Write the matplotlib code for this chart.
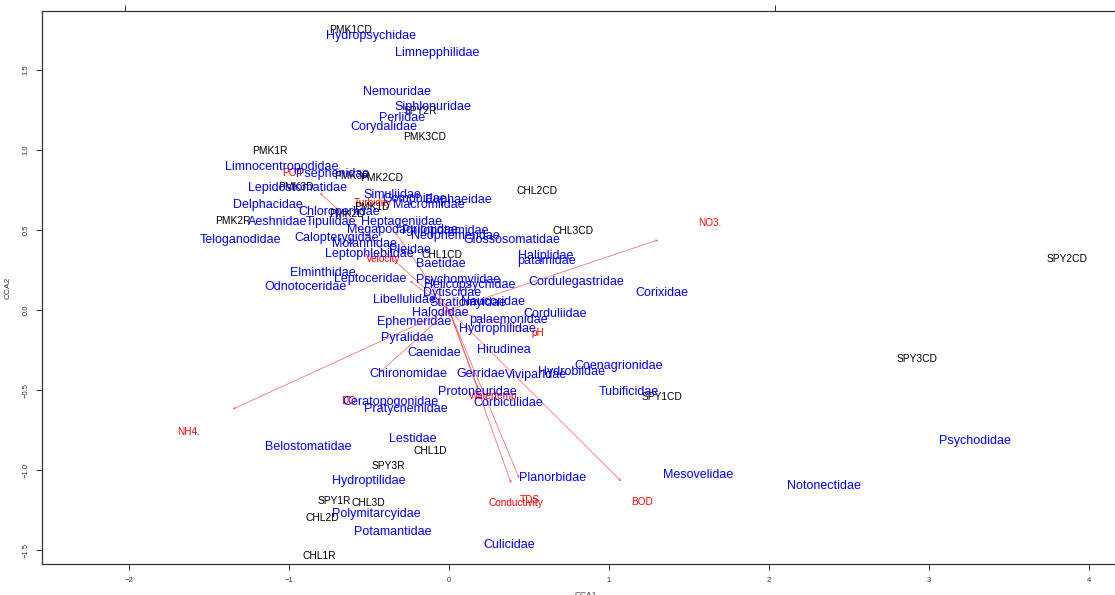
import matplotlib
matplotlib.use("Agg")
import matplotlib.pyplot as plt

plt.rcParams["font.family"] = ["Liberation Sans", "DejaVu Sans"]

# --- environmental biplot arrows (CCA1, CCA2) and their label positions ---
env_names = ["PO4", "Turbidity", "Velocity", "NO3.", "pH", "Watertemp",
             "DO", "NH4.", "Conductivity", "TDS", "BOD"]
env_x = [-0.806, -0.338, -0.244, 1.306, 0.456, 0.181,
         -0.431, -1.350, 0.388, 0.438, 1.075]
env_y = [0.731, 0.488, 0.181, 0.438, -0.113, -0.488,
         -0.388, -0.619, -1.081, -1.050, -1.069]
env_lab_x = [-0.981, -0.475, -0.413, 1.631, 0.556, 0.275,
             -0.625, -1.631, 0.419, 0.506, 1.206]
env_lab_y = [0.856, 0.669, 0.319, 0.544, -0.144, -0.538,
             -0.569, -0.763, -1.206, -1.188, -1.200]

# --- site scores ---
site_names = ["PMK1CD", "PMK1R", "PMK3CD", "SPY2R", "PMK3R", "PMK2CD",
              "PMK3D", "PMK1D", "PMK2D", "PMK2R", "CHL2CD", "CHL3CD",
              "CHL1CD", "SPY2CD", "SPY3CD", "SPY1CD", "CHL1D", "SPY3R",
              "SPY1R", "CHL3D", "CHL2D", "CHL1R"]
site_x = [-0.613, -1.119, -0.156, -0.181, -0.606, -0.419,
          -0.956, -0.481, -0.638, -1.350, 0.550, 0.775,
          -0.044, 3.863, 2.925, 1.331, -0.119, -0.381,
          -0.719, -0.506, -0.794, -0.813]
site_y = [1.750, 0.994, 1.081, 1.244, 0.838, 0.825,
          0.769, 0.644, 0.600, 0.556, 0.744, 0.494,
          0.344, 0.319, -0.306, -0.544, -0.881, -0.975,
          -1.194, -1.206, -1.300, -1.538]

# --- species scores ---
sp_names = ["Hydropsychidae", "Limnepphilidae", "Nemouridae", "Siphlonuridae",
            "Perlidae", "Corydalidae", "Limnocentropodidae", "Psephenidae",
            "Lepidostomatidae", "Simuliidae", "Gomphidae", "Euphaeidae",
            "Macromiidae", "Delphacidae", "Chloroperlidae", "Aeshnidae",
            "Tipulidae", "Heptageniidae", "Megapodagrionidae", "Philopotamidae",
            "Neophemeridae", "Teloganodidae", "Calopterygidae", "Glossosomatidae",
            "Molannidae", "Pleidae", "Leptophlebiidae", "Baetidae",
            "Haliplidae", "patamidae", "Elminthidae", "Leptoceridae",
            "Odnotoceridae", "Psychomyiidae", "Helicopsychidae", "Cordulegastridae",
            "Corixidae", "Dytiscidae", "Libellulidae", "Stratiomyidae",
            "Naucoridae", "Halodidae", "Corduliidae", "palaemonidae",
            "Ephemeridae", "Hydrophilidae", "Pyralidae", "Hirudinea",
            "Caenidae", "Coenagrionidae", "Hydrobiidae", "Viviparidae",
            "Gerridae", "Chironomidae", "Tubificidae", "Protoneuridae",
            "Corbiculidae", "Ceratopogonidae", "Pratycnemidae", "Lestidae",
            "Belostomatidae", "Hydroptilidae", "Planorbidae", "Polymitarcyidae",
            "Potamantidae", "Culicidae", "Mesovelidae", "Notonectidae",
            "Psychodidae"]
sp_x = [-0.488, -0.075, -0.325, -0.100,
        -0.294, -0.406, -1.044, -0.725,
        -0.950, -0.356, -0.213, 0.056,
        -0.125, -1.131, -0.688, -1.069,
        -0.738, -0.300, -0.294, -0.025,
        0.038, -1.306, -0.700, 0.394,
        -0.531, -0.244, -0.500, -0.050,
        0.606, 0.606, -0.788, -0.494,
        -0.900, 0.056, 0.131, 0.794,
        1.331, 0.019, -0.281, 0.119,
        0.275, -0.056, 0.663, 0.369,
        -0.219, 0.300, -0.263, 0.344,
        -0.094, 1.063, 0.763, 0.544,
        0.200, -0.256, 1.125, 0.175,
        0.369, -0.369, -0.269, -0.225,
        -0.881, -0.500, 0.650, -0.456,
        -0.350, 0.375, 1.556, 2.344,
        3.288]
sp_y = [1.713, 1.606, 1.363, 1.269,
        1.200, 1.144, 0.894, 0.850,
        0.763, 0.719, 0.694, 0.688,
        0.656, 0.656, 0.613, 0.550,
        0.550, 0.550, 0.500, 0.494,
        0.463, 0.438, 0.450, 0.438,
        0.413, 0.375, 0.350, 0.288,
        0.338, 0.306, 0.231, 0.194,
        0.144, 0.188, 0.156, 0.175,
        0.106, 0.106, 0.063, 0.044,
        0.050, -0.019, -0.025, -0.063,
        -0.075, -0.119, -0.175, -0.250,
        -0.269, -0.350, -0.388, -0.406,
        -0.400, -0.400, -0.513, -0.513,
        -0.581, -0.575, -0.619, -0.806,
        -0.856, -1.069, -1.050, -1.275,
        -1.388, -1.469, -1.031, -1.100,
        -0.819]

W, H = 1115, 595
fig = plt.figure(figsize=(W / 100, H / 100), dpi=100)
# plot region; the right-hand border runs past the edge of the canvas
ax = fig.add_axes([42 / W, (H - 564) / H, (1130 - 42) / W, (564 - 11) / H])
ax.set_xlim(-2.544, 4.256)
ax.set_ylim(-1.5875, 1.869)

for s in ax.spines.values():
    s.set_color("#333333")
    s.set_linewidth(0.9)

ax.set_xticks([-2, -1, 0, 1, 2, 3, 4])
ax.set_xticklabels(["\u22122", "\u22121", "0", "1", "2", "3", "4"])
ax.set_yticks([-1.5, -1.0, -0.5, 0.0, 0.5, 1.0, 1.5])
ax.set_yticklabels(["\u22121.5", "\u22121.0", "\u22120.5", "0.0", "0.5", "1.0", "1.5"],
                   rotation=90, va="center")
ax.tick_params(axis="both", labelsize=5.5, length=4, width=0.7,
               colors="#333333", labelcolor="#333333", pad=5)

# top-axis ticks of the secondary (species) scale
top = ax.secondary_xaxis("top")
top.set_xticks([-2.025, 2.04])
top.set_xticklabels(["", ""])
top.tick_params(length=4, width=0.7, colors="#333333")
top.spines["top"].set_visible(False)

ax.set_xlabel("CCA1", fontsize=6, color="#333333", labelpad=6)
ax.set_ylabel("CCA2", fontsize=6, color="#333333", labelpad=8)

# environmental arrows from the origin
for name, ex, ey, lx, ly in zip(env_names, env_x, env_y, env_lab_x, env_lab_y):
    ax.annotate("", xy=(ex, ey), xytext=(0, 0),
                arrowprops=dict(arrowstyle="->", color="#ff2a2a", lw=0.45,
                                alpha=0.85, mutation_scale=3.5,
                                shrinkA=0, shrinkB=0))
    ax.text(lx, ly, name, color="red", fontsize=7.2, ha="center", va="center")

# site labels
for name, x, y in zip(site_names, site_x, site_y):
    ax.text(x, y, name, color="black", fontsize=7.4, ha="center", va="center")

# species labels
for name, x, y in zip(sp_names, sp_x, sp_y):
    ax.text(x, y, name, color="blue", fontsize=9, ha="center", va="center")

fig.savefig("out.png", dpi=100)
